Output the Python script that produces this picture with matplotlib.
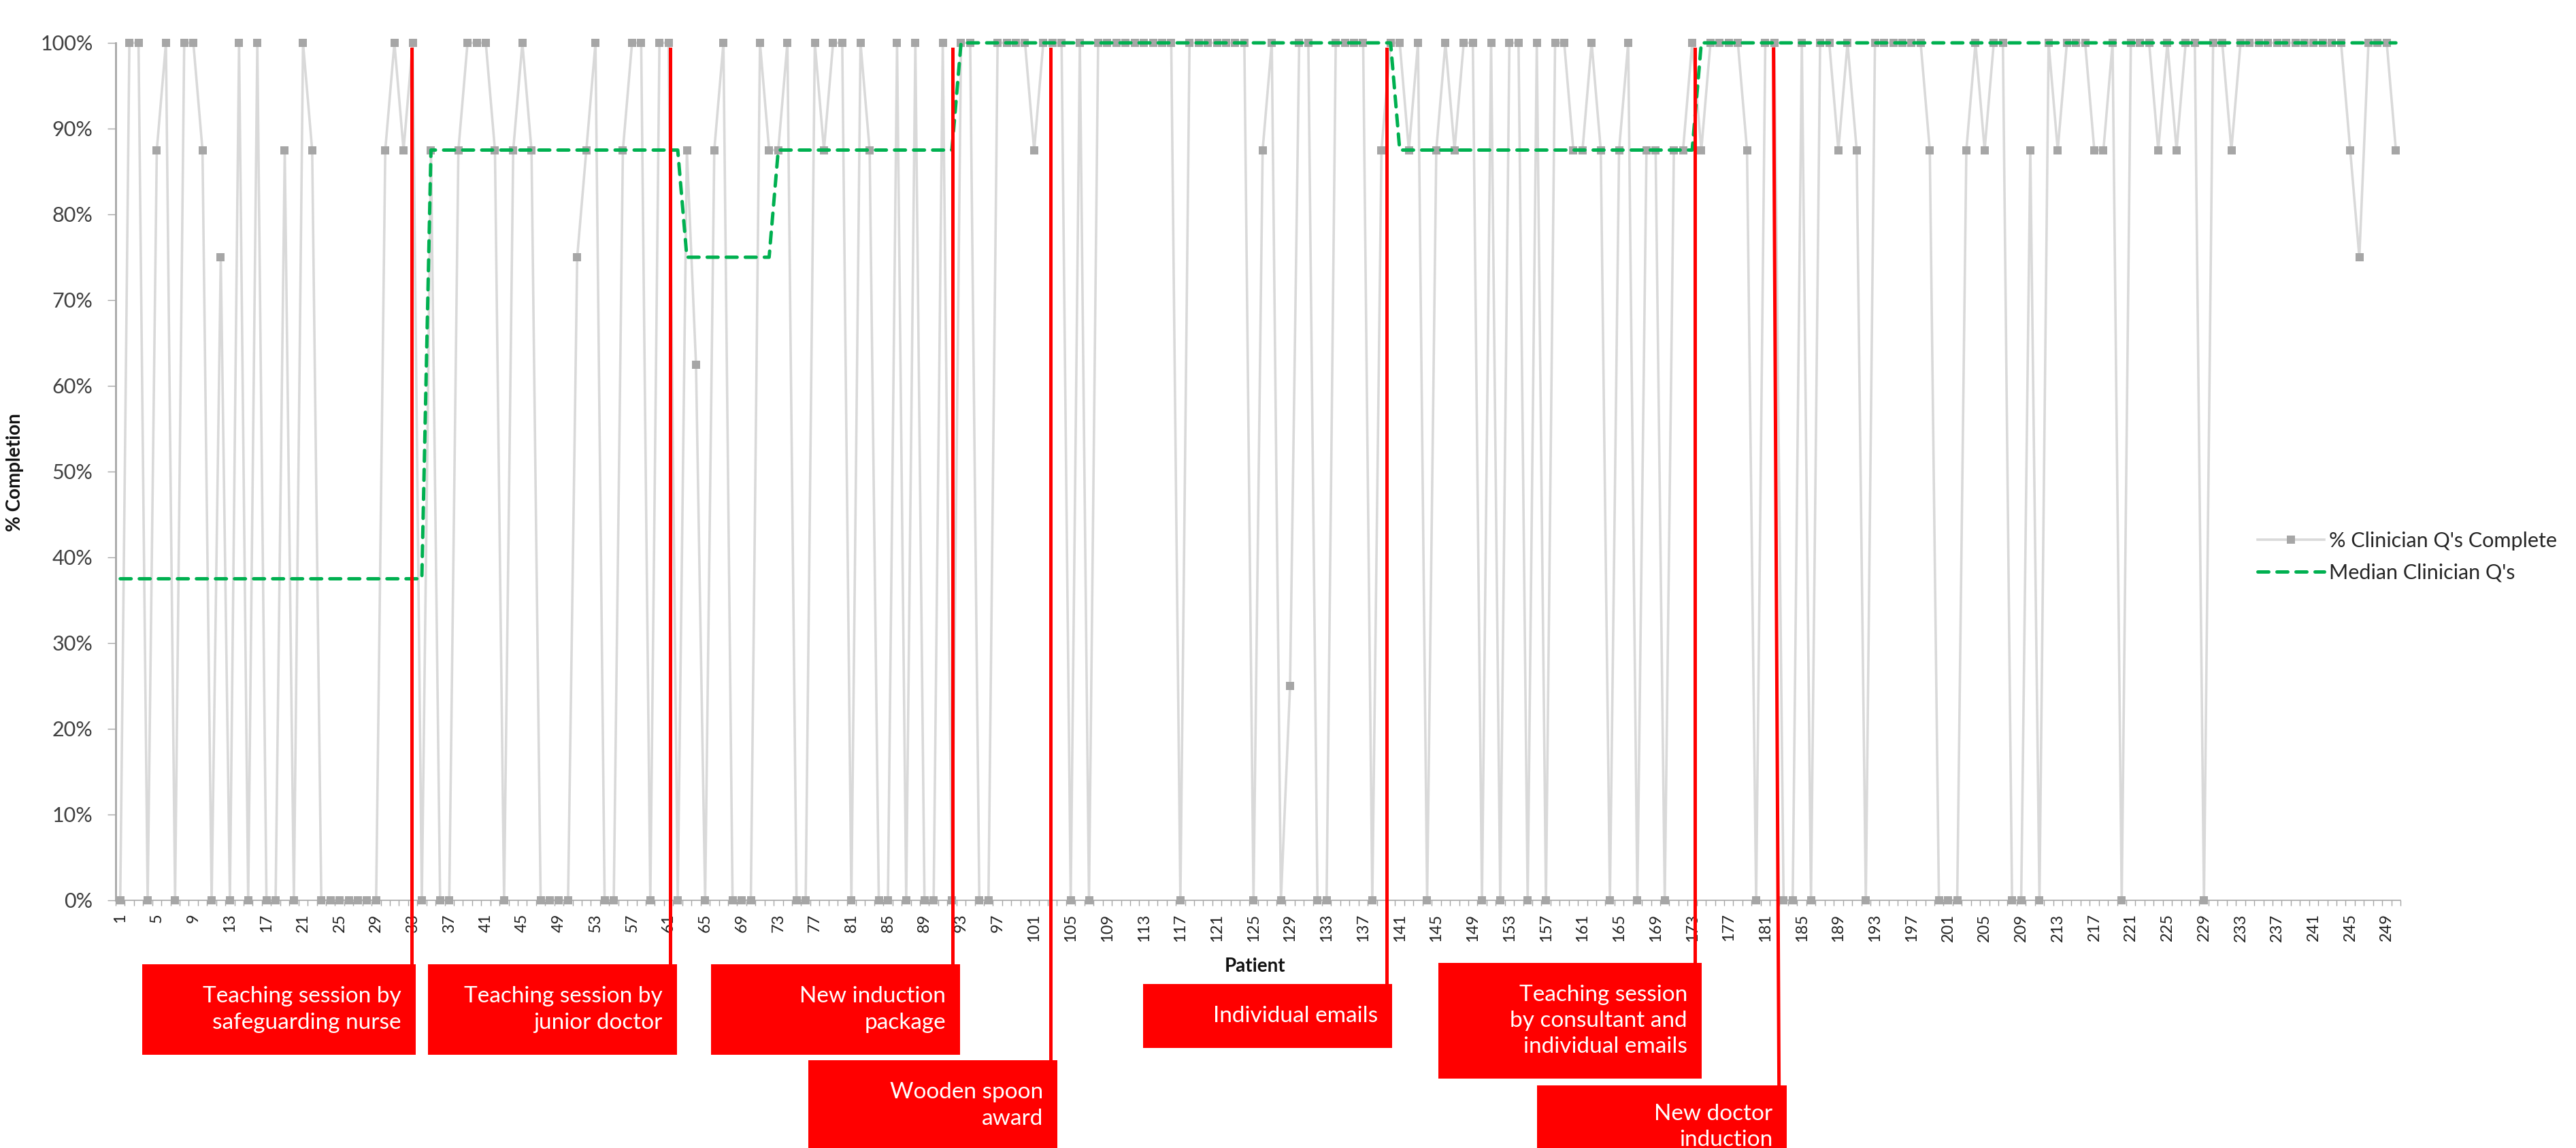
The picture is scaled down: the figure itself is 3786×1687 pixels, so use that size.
import numpy as np
import matplotlib.pyplot as plt
from matplotlib.patches import Rectangle
from matplotlib.ticker import PercentFormatter, FixedLocator
from matplotlib.transforms import blended_transform_factory

plt.rcParams['font.family'] = ['Lato', 'DejaVu Sans']

# % of clinician questions completed, patients 1..250
pct_complete = [
    0, 100, 100, 0, 87.5, 100, 0, 100, 100, 87.5,
    0, 75, 0, 100, 0, 100, 0, 0, 87.5, 0,
    100, 87.5, 0, 0, 0, 0, 0, 0, 0, 87.5,
    100, 87.5, 100, 0, 87.5, 0, 0, 87.5, 100, 100,
    100, 87.5, 0, 87.5, 100, 87.5, 0, 0, 0, 0,
    75, 87.5, 100, 0, 0, 87.5, 100, 100, 0, 100,
    100, 0, 87.5, 62.5, 0, 87.5, 100, 0, 0, 0,
    100, 87.5, 87.5, 100, 0, 0, 100, 87.5, 100, 100,
    0, 100, 87.5, 0, 0, 100, 0, 100, 0, 0,
    100, 0, 100, 100, 0, 0, 100, 100, 100, 100,
    87.5, 100, 100, 100, 0, 100, 0, 100, 100, 100,
    100, 100, 100, 100, 100, 100, 0, 100, 100, 100,
    100, 100, 100, 100, 0, 87.5, 100, 0, 25, 100,
    100, 0, 0, 100, 100, 100, 100, 0, 87.5, 100,
    100, 87.5, 100, 0, 87.5, 100, 87.5, 100, 100, 0,
    100, 0, 100, 100, 0, 100, 0, 100, 100, 87.5,
    87.5, 100, 87.5, 0, 87.5, 100, 0, 87.5, 87.5, 0,
    87.5, 87.5, 100, 87.5, 100, 100, 100, 100, 87.5, 0,
    100, 100, 0, 0, 100, 0, 100, 100, 87.5, 100,
    87.5, 0, 100, 100, 100, 100, 100, 100, 87.5, 0,
    0, 0, 87.5, 100, 87.5, 100, 100, 0, 0, 87.5,
    0, 100, 87.5, 100, 100, 100, 87.5, 87.5, 100, 0,
    100, 100, 100, 87.5, 100, 87.5, 100, 100, 0, 100,
    100, 87.5, 100, 100, 100, 100, 100, 100, 100, 100,
    100, 100, 100, 100, 87.5, 75, 100, 100, 100, 87.5,
]
patients = np.arange(1, len(pct_complete) + 1)

# median as runs: level and number of patients in the run
median_levels = [37.5, 87.5, 75, 87.5, 100, 87.5, 100]
median_counts = [34, 28, 10, 20, 48, 33, 77]
median = np.repeat(median_levels, median_counts)

# interventions (patient position of the red marker line, top and bottom)
event_x = [32.9, 61.2, 92.1, 102.8, 139.6, 173.3, 181.9]
event_x_end = [32.9, 61.2, 92.1, 102.8, 139.6, 173.3, 182.5]
event_labels = [
    "Teaching session by\nsafeguarding nurse",
    "Teaching session by\njunior doctor",
    "New induction\npackage",
    "Wooden spoon\naward",
    "Individual emails",
    "Teaching session\nby consultant and\nindividual emails",
    "New doctor\ninduction",
]

W, H = 3786, 1687
# box layout in pixels: left, top, right, bottom
boxes = [
    (209, 1417, 611, 1550),
    (629, 1417, 995, 1550),
    (1045, 1417, 1411, 1550),
    (1188, 1558, 1554, 1691),
    (1680, 1446, 2046, 1540),
    (2114, 1415, 2501, 1585),
    (2259, 1595, 2626, 1717),
]

fig = plt.figure(figsize=(W / 100, H / 100), dpi=100)
ax = fig.add_axes([170 / W, 1 - 1323 / H, (3528 - 170) / W, (1323 - 63) / H])

ax.plot(patients, pct_complete, color='#D9D9D9', lw=2.6, marker='s', ms=8,
        mfc='#A6A6A6', mec='#A6A6A6', mew=0, clip_on=False, zorder=2,
        label="% Clinician Q's Complete")
ax.plot(patients, median, color='#00B050', lw=3.6, dashes=(3.2, 2.4),
        dash_capstyle='round', clip_on=False, zorder=3,
        label="Median Clinician Q's")

ax.set_xlim(0.5, len(pct_complete) + 0.5)
ax.set_ylim(0, 100)
ax.yaxis.set_major_locator(FixedLocator(np.arange(0, 101, 10)))
ax.yaxis.set_major_formatter(PercentFormatter(100, decimals=0))
ax.set_xticks(patients[::4])
ax.set_xticklabels([str(p) for p in patients[::4]], rotation=90)
ax.set_xticks(np.arange(0.5, len(pct_complete) + 1, 1), minor=True)
ax.tick_params(axis='x', which='major', length=0, pad=14, labelsize=17, labelcolor='#222222')
ax.tick_params(axis='x', which='minor', length=6, width=1, color='#A6A6A6')
ax.tick_params(axis='y', length=9, width=1, color='#A6A6A6', pad=15,
               labelsize=22, labelcolor='#404040')
for s in ['top', 'right']:
    ax.spines[s].set_visible(False)
ax.spines['left'].set_color('#A6A6A6')
ax.spines['left'].set_linewidth(2)
ax.spines['bottom'].set_color('#A6A6A6')
ax.spines['bottom'].set_linewidth(1.2)

fig.text(22 / W, 1 - 694 / H, '% Completion', rotation=90, ha='center', va='center',
         fontsize=20, fontweight='bold', color='#111111')
fig.text(1845 / W, 1 - 1420 / H, 'Patient', ha='center', va='center',
         fontsize=20, fontweight='bold', color='#111111')

leg = ax.legend(loc='upper left', bbox_to_anchor=(3318 / W, 1 - 781 / H),
                bbox_transform=fig.transFigure, frameon=False, fontsize=22,
                handlelength=3.2, handletextpad=0.25, labelspacing=0.6,
                borderpad=0, borderaxespad=0)
for t in leg.get_texts():
    t.set_color('#262626')

# red connector lines and boxes
trans = blended_transform_factory(ax.transData, fig.transFigure)
for x0, x1, (l, t, r, b), lab in zip(event_x, event_x_end, boxes, event_labels):
    ax.plot([x0, x1], [1 - 72 / H, 1 - t / H], color='#FF0000', lw=3.6,
            transform=trans, clip_on=False, zorder=5)
    fig.patches.append(Rectangle((l / W, 1 - b / H), (r - l) / W, (b - t) / H,
                                 transform=fig.transFigure, facecolor='#FF0000',
                                 edgecolor='none', zorder=6))
    fig.text((r - 21) / W, 1 - (t + b) / 2 / H, lab, ha='right', va='center',
             multialignment='right', color='white', fontsize=24, linespacing=1.35,
             zorder=7)

fig.savefig('out.png', dpi=100)
